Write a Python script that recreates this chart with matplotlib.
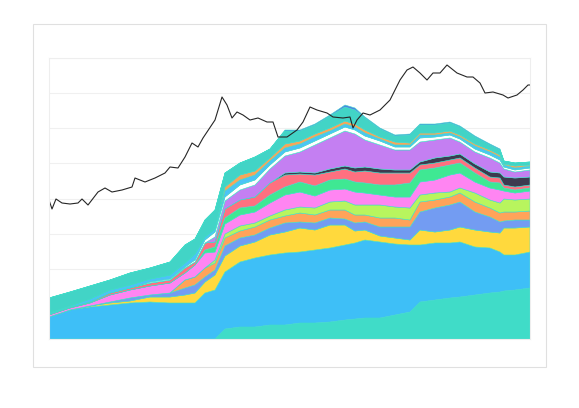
import numpy as np
import matplotlib.pyplot as plt
from matplotlib.patches import Rectangle

# time index of the sampled columns
t = [0, 21, 41, 61, 81, 101, 121, 136, 146, 156, 166, 176, 191, 206, 221, 236, 251,
     266, 281, 296, 306, 316, 331, 346, 361, 371, 386, 401, 411, 426, 441, 451, 455,
     466, 481]

# stacked series, bottom to top
base = [0, 0, 0, 0, 0, 0, 0, 0, 0, 0, 0, 10, 12, 12, 14, 14, 16, 16, 17, 19, 20, 21, 21,
        24, 27, 37, 39, 41, 42, 44, 46, 47, 48, 49, 51]
sky = [22, 29, 32, 34, 36, 37, 36, 36, 36, 46, 49, 57, 65, 69, 70, 72, 71, 73, 74, 75, 76,
       78, 76, 71, 67, 57, 57, 55, 55, 48, 45, 40, 36, 35, 36]
yellow = [0, 0, 1, 2, 2, 5, 6, 8, 10, 11, 15, 16, 16, 16, 20, 21, 24, 20, 23, 20, 12, 10,
          6, 6, 5, 15, 11, 13, 15, 17, 16, 19, 27, 27, 25]
peri = [0, 0, 0, 1, 3, 2, 4, 7, 8, 5, 5, 10, 8, 7, 7, 9, 6, 7, 7, 6, 8, 8, 9, 11, 13, 18,
        24, 25, 25, 18, 15, 11, 7, 8, 7]
orange = [0, 0, 0, 0, 0, 0, 0, 8, 8, 9, 7, 8, 7, 8, 8, 7, 9, 8, 8, 9, 8, 7, 9, 9, 7, 10,
          8, 8, 9, 10, 9, 9, 9, 8, 9]
lime = [0, 0, 0, 0, 0, 0, 0, 0, 0, 0, 3, 4, 5, 4, 4, 6, 6, 7, 8, 9, 10, 10, 13, 11, 12, 7,
        7, 5, 5, 9, 8, 10, 13, 12, 12]
pink = [2, 2, 3, 7, 8, 9, 10, 7, 12, 15, 8, 10, 11, 11, 13, 15, 15, 12, 12, 12, 13, 12, 10,
        10, 11, 13, 13, 17, 15, 11, 12, 13, 8, 7, 8]
green = [0, 0, 0, 0, 0, 0, 0, 0, 0, 3, 5, 6, 7, 6, 8, 8, 10, 10, 10, 10, 10, 10, 10, 12,
         14, 12, 12, 10, 10, 9, 6, 7, 3, 3, 3]
salmon = [1, 1, 1, 2, 2, 3, 3, 5, 3, 7, 5, 9, 8, 9, 12, 12, 8, 11, 8, 10, 10, 12, 12, 12,
          10, 5, 5, 5, 5, 5, 5, 5, 3, 3, 3]
dark = [0, 0, 0, 0, 0, 0, 0, 0, 0, 0, 0, 0, 0, 0, 0, 2, 2, 2, 3, 3, 4, 4, 4, 3, 3, 3, 5,
        4, 4, 4, 5, 5, 8, 9, 8]
violet = [0, 0, 0, 0, 0, 0, 0, 0, 0, 0, 5, 8, 10, 12, 14, 17, 20, 28, 31, 35, 34, 27, 24,
          20, 20, 20, 18, 18, 12, 12, 14, 10, 8, 6, 7]
white = [0, 0, 0, 0, 0, 1, 1, 1, 2, 3, 5, 4, 5, 5, 4, 4, 4, 4, 4, 4, 4, 4, 4, 3, 3, 4, 3,
         3, 3, 3, 3, 3, 2, 2, 2]
lightblue = [1, 1, 3, 3, 3, 3, 4, 4, 6, 3, 3, 6, 5, 5, 4, 4, 4, 4, 3, 3, 3, 3, 2, 2, 2, 3,
             2, 2, 2, 3, 3, 3, 2, 2, 2]
orange2 = [0, 0, 0, 0, 0, 0, 0, 0, 0, 0, 0, 4, 5, 4, 3, 4, 3, 3, 3, 3, 3, 3, 2, 3, 2, 2,
           2, 2, 2, 2, 2, 2, 1, 2, 1]
teal = [15, 14, 13, 10, 12, 11, 13, 18, 15, 17, 19, 14, 12, 14, 9, 13, 10, 9, 12, 14, 14,
        12, 8, 6, 8, 8, 8, 8, 8, 7, 5, 5, 3, 3, 3]
blue = [0, 0, 0, 0, 0, 0, 0, 0, 0, 0, 0, 0, 0, 0, 0, 1, 1, 1, 1, 2, 2, 1, 1, 1, 1, 1, 1,
        1, 1, 1, 1, 1, 0, 0, 0]

colors = ['#40dcc8', '#3ebff7', '#ffd93d', '#739cf2', '#ffa35a', '#b8f55e', '#ff85f2',
          '#3fe893', '#ff7080', '#3d3a4f', '#c47ff2', '#ffffff', '#4cc3f7', '#f7a65c',
          '#42d4c6', '#4f7fe6']

# price line
price_t = [0, 3, 7, 13, 21, 29, 33, 39, 49, 56, 63, 73, 83, 86, 96, 106, 116, 121, 129,
           136, 143, 149, 154, 158, 166, 173, 178, 183, 188, 194, 201, 209, 218, 224, 229,
           238, 248, 254, 261, 268, 278, 284, 294, 301, 304, 308, 314, 321, 331, 341, 351,
           358, 364, 371, 378, 384, 391, 398, 408, 418, 424, 431, 436, 444, 454, 459, 468,
           474, 479, 481]
price = [139, 130, 140, 136, 135, 136, 140, 134, 147, 151, 147, 149, 152, 161, 157, 161,
         166, 172, 171, 182, 196, 192, 201, 207, 219, 242, 234, 221, 227, 224, 219, 221,
         217, 217, 202, 202, 209, 217, 232, 229, 226, 222, 221, 222, 211, 219, 226, 224,
         229, 239, 259, 269, 272, 266, 259, 266, 266, 274, 266, 262, 262, 256, 246, 247,
         244, 241, 244, 249, 254, 254]

W, H = 579, 408
fig = plt.figure(figsize=(W / 100, H / 100), dpi=100)
fig.patch.set_facecolor('white')

# card with soft shadow
cx, cy, cw, ch = 33, 24, 513, 343
for d in range(1, 26):
    fig.add_artist(Rectangle(((cx - d) / W, 1 - (cy + ch + d + 5) / H),
                             (cw + 2 * d) / W, (ch + 2 * d) / H,
                             transform=fig.transFigure, facecolor='black',
                             edgecolor='none', alpha=0.0017, zorder=0))
fig.add_artist(Rectangle((cx / W, 1 - (cy + ch) / H), cw / W, ch / H,
                         transform=fig.transFigure, facecolor='white',
                         edgecolor='#e0e0e0', lw=0.8, zorder=1))

ax = fig.add_axes([49 / W, 1 - 339 / H, 481 / W, 281 / H], zorder=2)
ax.set_facecolor('white')

layers = [base, sky, yellow, peri, orange, lime, pink, green, salmon, dark, violet,
          white, lightblue, orange2, teal, blue]
ax.stackplot(t, *layers, colors=colors, linewidth=0.4, edgecolors=colors)
ax.plot(price_t, price, color='#262626', lw=0.8)

ax.set_xlim(0, 481)
ax.set_ylim(0, 281)
ax.set_yticks(np.linspace(0, 281, 9))
ax.set_xticks([])
ax.grid(axis='y', color='#f0f0f0', lw=0.8)
ax.set_axisbelow(True)
ax.tick_params(left=False, labelleft=False)
for s in ax.spines.values():
    s.set_color('#eeeeee')
    s.set_linewidth(0.8)

fig.savefig('out.png', dpi=100)
